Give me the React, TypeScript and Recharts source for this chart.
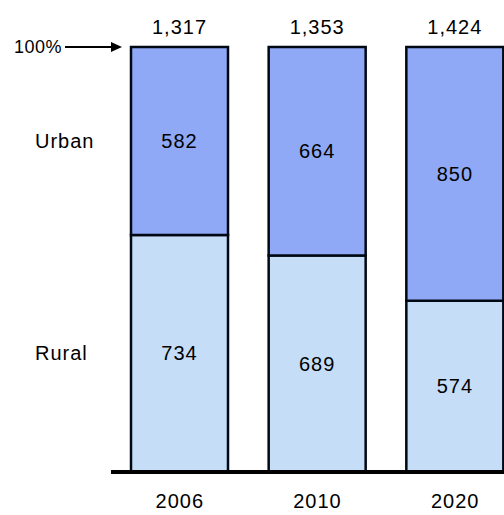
import React from 'react';
import { BarChart, Bar, XAxis, YAxis, LabelList } from 'recharts';

const years = ['2006', '2010', '2020'];
const urban = [582, 664, 850];
const rural = [734, 689, 574];
const totals = ['1,317', '1,353', '1,424'];
const seriesNames = ['Urban', 'Rural'];
const topLabel = '100%';

const data = years.map((year, i) => ({
  year,
  urban: urban[i],
  rural: rural[i],
  total: totals[i],
}));

const FONT = '"Liberation Sans", Arial, sans-serif';
const FS = 20;
const LS = 1;
const URBAN_FILL = '#8fa9f6';
const RURAL_FILL = '#c6ddf8';
const STROKE = '#000814';

const getBox = (props: any) => {
  const vb = props.viewBox || props;
  const x = Number(vb.x);
  const w = Number(vb.width);
  let y = Number(vb.y);
  let h = Number(vb.height);
  if (h < 0) {
    y = y + h;
    h = -h;
  }
  return { x, y, w, h };
};

const makeCenterLabel = (sideName: string) => (props: any) => {
  const { x, y, w, h } = getBox(props);
  const cy = y + h / 2;
  return (
    <g>
      <text x={x + w / 2} y={cy} textAnchor="middle" dominantBaseline="central" fontSize={FS} fontFamily={FONT} letterSpacing={LS} fill="#000">
        {props.value}
      </text>
      {props.index === 0 ? (
        <text x={x - 96} y={cy} textAnchor="start" dominantBaseline="central" fontSize={FS} fontFamily={FONT} letterSpacing={LS} fill="#000">
          {sideName}
        </text>
      ) : null}
    </g>
  );
};

const TotalLabel = (props: any) => {
  const { x, y, w } = getBox(props);
  return (
    <g>
      <text x={x + w / 2} y={y - 13} textAnchor="middle" fontSize={FS} fontFamily={FONT} letterSpacing={LS} fill="#000">
        {props.value}
      </text>
      {props.index === 0 ? (
        <g>
          <text x={x - 117} y={y} textAnchor="start" dominantBaseline="central" fontSize={FS - 2} fontFamily={FONT} letterSpacing={0.5} fill="#000">
            {topLabel}
          </text>
          <line x1={x - 66} y1={y} x2={x - 18} y2={y} stroke="#000" strokeWidth={2} />
          <polygon points={`${x - 9},${y} ${x - 20},${y - 5} ${x - 20},${y + 5}`} fill="#000" />
        </g>
      ) : null}
    </g>
  );
};

export default function App() {
  return (
    <div style={{ position: 'absolute', left: 0, top: 0, width: 504, height: 515, overflow: 'hidden', background: '#ffffff' }}>
      <BarChart
        width={524}
        height={515}
        data={data}
        stackOffset="expand"
        margin={{ top: 47, right: 0, bottom: 0, left: 111 }}
        barSize={97}
        style={{ fontFamily: FONT }}
      >
        <YAxis hide domain={[0, 1]} />
        <XAxis
          dataKey="year"
          height={43}
          tickLine={false}
          tickSize={0}
          tickMargin={22}
          axisLine={{ stroke: '#000', strokeWidth: 4 }}
          tick={{ fill: '#000', fontSize: FS, fontFamily: FONT, letterSpacing: LS }}
        />
        <Bar dataKey="rural" stackId="a" fill={RURAL_FILL} stroke={STROKE} strokeWidth={2.5} isAnimationActive={false}>
          <LabelList dataKey="rural" content={makeCenterLabel(seriesNames[1])} />
        </Bar>
        <Bar dataKey="urban" stackId="a" fill={URBAN_FILL} stroke={STROKE} strokeWidth={2.5} isAnimationActive={false}>
          <LabelList dataKey="urban" content={makeCenterLabel(seriesNames[0])} />
          <LabelList dataKey="total" content={TotalLabel} />
        </Bar>
      </BarChart>
    </div>
  );
}
